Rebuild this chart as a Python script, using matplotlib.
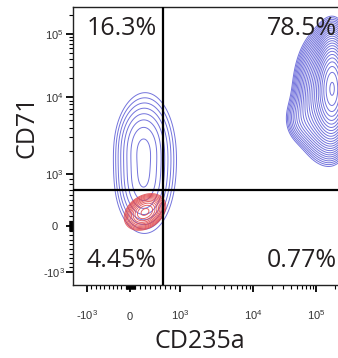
import numpy as np
import matplotlib
matplotlib.use('Agg')
import matplotlib.pyplot as plt

plt.rcParams['mathtext.fontset'] = 'custom'
plt.rcParams['mathtext.rm'] = 'Liberation Sans'
plt.rcParams['mathtext.it'] = 'Liberation Sans'

# ---------------- data ----------------
x_label = 'CD235a'
y_label = 'CD71'
quad_labels = ['16.3%', '78.5%', '4.45%', '0.77%']   # UL, UR, LL, LR
gate_x = 660.0
gate_y = 690.0

major_vals = [-1e3, 0, 1e3, 1e4, 1e5]
major_labels = [r'-$\mathregular{10^3}$', '0', r'$\mathregular{10^3}$',
                r'$\mathregular{10^4}$', r'$\mathregular{10^5}$']

# populations: centre (data units), spread (display channels), correlation, weight
blue_left_cx = [260.0, 260.0, 320.0]
blue_left_cy = [2380.0, 800.0, 1500.0]
blue_left_sx = [11.0, 11.0, 15.0]
blue_left_sy = [18.0, 19.0, 33.0]
blue_left_r = [0.0, 0.0, 0.0]
blue_left_w = [1.0, 1.0, 0.6]

blue_right_cx = [186000.0, 140000.0, 55000.0]
blue_right_cy = [14500.0, 10500.0, 5000.0]
blue_right_sx = [8.0, 14.0, 10.0]
blue_right_sy = [25.0, 29.0, 14.0]
blue_right_r = [0.0, 0.0, 0.0]
blue_right_w = [1.0, 0.45, 0.05]

red_cx = [300.0]
red_cy = [270.0]
red_sx = [8.5]
red_sy = [7.5]
red_r = [0.3]
red_w = [1.0]

# ---------------- biexponential-like scale ----------------
G_ANCH = np.array([-4.0, -1.0, 0.0, 1.0, 2.0, 3.0, 5.0])
X_CH = np.array([-93.0, 87.0, 130.0, 180.0, 253.0, 316.0, 442.0])
Y_CH = -np.array([452.0, 272.0, 226.0, 174.0, 97.0, 34.0, -92.0])


def g_of(v):
    v = np.asarray(v, dtype=float)
    a = np.abs(v)
    return np.where(a <= 1000.0, v / 1000.0,
                    np.sign(v) * (1.0 + np.log10(np.maximum(a, 1e-9) / 1000.0)))


def v_of(g):
    g = np.asarray(g, dtype=float)
    a = np.abs(g)
    return np.where(a <= 1.0, g * 1000.0, np.sign(g) * 1000.0 * 10 ** (a - 1.0))


def xf(v):
    return np.interp(g_of(v), G_ANCH, X_CH)


def xi(c):
    return v_of(np.interp(c, X_CH, G_ANCH))


def yf(v):
    return np.interp(g_of(v), G_ANCH, Y_CH)


def yi(c):
    return v_of(np.interp(c, Y_CH, G_ANCH))


W, H = 338, 358
fig = plt.figure(figsize=(W / 100, H / 100), dpi=100)
L, R, T, B = 73, 345, 7, 285
ax = fig.add_axes([L / W, 1 - B / H, (R - L) / W, (B - T) / H])
ax.set_xscale('function', functions=(xf, xi))
ax.set_yscale('function', functions=(yf, yi))
ax.set_xlim(float(xi(L)), float(xi(R)))
ax.set_ylim(float(yi(-B)), float(yi(-T)))

# density grid in channel space
cxg = np.linspace(L, R, 500)
cyg = np.linspace(-B, -T, 500)
CX, CY = np.meshgrid(cxg, cyg)
XD, YD = xi(CX), yi(CY)


def density(cx, cy, sx, sy, r, w):
    Z = np.zeros_like(CX)
    for mx, my, a, b, rr, ww in zip(cx, cy, sx, sy, r, w):
        px, py = xf(mx), yf(my)
        dx = (CX - px) / a
        dy = (CY - py) / b
        q = (dx ** 2 - 2 * rr * dx * dy + dy ** 2) / (1 - rr ** 2)
        Z += ww * np.exp(-0.5 * q)
    return Z / Z.max()


zb_l = density(blue_left_cx, blue_left_cy, blue_left_sx, blue_left_sy, blue_left_r, blue_left_w)
zb_r = density(blue_right_cx, blue_right_cy, blue_right_sx, blue_right_sy, blue_right_r, blue_right_w)
zr = density(red_cx, red_cy, red_sx, red_sy, red_r, red_w)

blue = '#5b5bd6'
red = '#e0484c'
ax.contour(XD, YD, zb_l, levels=np.geomspace(0.05, 0.85, 8), colors=blue, linewidths=0.7, alpha=0.85)
ax.contour(XD, YD, zb_r, levels=np.geomspace(0.02, 0.97, 24), colors=blue, linewidths=0.7, alpha=0.85)
ax.contour(XD, YD, zr, levels=np.geomspace(0.05, 0.9, 11), colors=red, linewidths=0.7, alpha=0.85)

# gates
ax.axvline(gate_x, color='black', lw=1.6, zorder=5)
ax.axhline(gate_y, color='black', lw=1.6, zorder=5)

# ticks
minor = []
for k in [1, 2, 3, 4, 5]:
    for m in range(1, 10):
        val = m * 10 ** k
        if val in major_vals:
            continue
        minor += [val, -val]
xlo, xhi = ax.get_xlim()
ylo, yhi = ax.get_ylim()
ax.set_xticks(major_vals)
ax.set_xticklabels(major_labels)
ax.set_yticks(major_vals)
ax.set_yticklabels(major_labels)
ax.set_xticks([m for m in minor if xlo < m < xhi], minor=True)
ax.set_yticks([m for m in minor if ylo < m < yhi], minor=True)
ax.tick_params(which='major', direction='out', length=5, width=1.3, color='black',
               labelsize=8, labelcolor='#333333')
ax.tick_params(which='minor', direction='out', length=3, width=0.8, color='black')
ax.tick_params(axis='x', which='major', pad=20)
ax.tick_params(axis='y', which='major', pad=8.5)
for lab in ax.get_xticklabels():
    lab.set_fontfamily('Liberation Sans')
    lab.set_verticalalignment('baseline')
for lab in ax.get_yticklabels():
    lab.set_fontfamily('Liberation Sans')
    lab.set_horizontalalignment('center')

for s in ['left', 'bottom', 'top']:
    ax.spines[s].set_color('#222222')
    ax.spines[s].set_linewidth(1.0)
ax.spines['right'].set_visible(False)

# texts
tf = dict(fontfamily='Open Sans', fontsize=18, color='#231f20', va='baseline', ha='left')
fig.text(87 / W, 1 - 35 / H, quad_labels[0], **tf)
fig.text(267 / W, 1 - 35 / H, quad_labels[1], **tf)
fig.text(86 / W, 1 - 267 / H, quad_labels[2], **tf)
fig.text(267 / W, 1 - 267 / H, quad_labels[3], **tf)
fig.text(200 / W, 1 - 348 / H, x_label, fontfamily='Open Sans', fontsize=18,
         color='#231f20', ha='center', va='baseline')
fig.text(27 / W, 1 - 127 / H, y_label, fontfamily='Open Sans', fontsize=18,
         color='#231f20', ha='center', va='center', rotation=90)

fig.savefig('out.png', dpi=100)
